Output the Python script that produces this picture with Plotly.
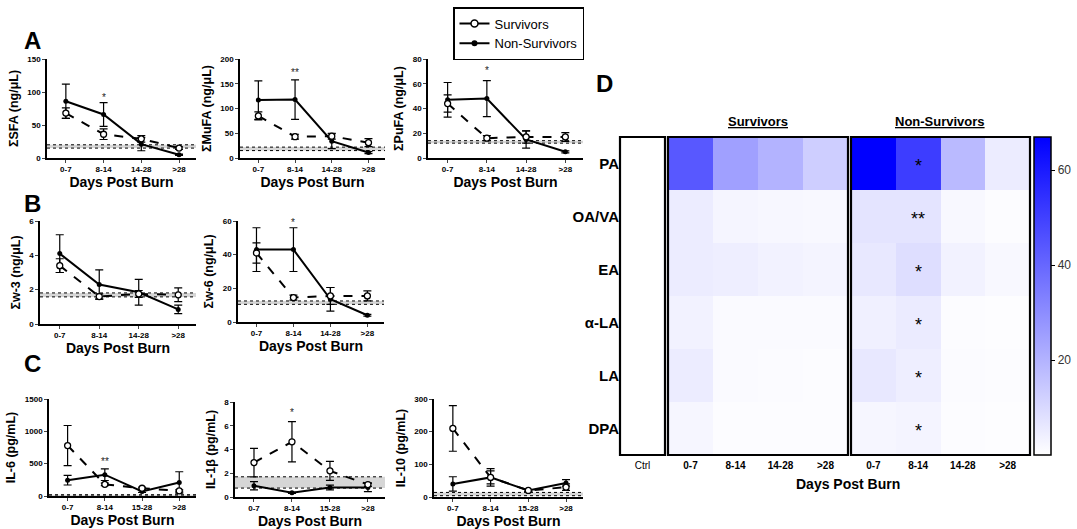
import plotly.graph_objects as go

FONT = "Liberation Sans, Arial, sans-serif"
W, H = 1077, 529

# ---------------- data ----------------
cats_fa = ["0-7", "8-14", "14-28", ">28"]
cats_cy = ["0-7", "8-14", "15-28", ">28"]

sfa_s = [68, 36, 29, 15];      sfa_s_err = [8, 8, 5, 2]
sfa_ns = [86, 66, 21, 5];      sfa_ns_err = [26, 18, 10, 1]
mufa_s = [85, 43, 44, 31];     mufa_s_err = [8, 5, 6, 8]
mufa_ns = [117, 118, 34, 11];  mufa_ns_err = [39, 40, 15, 2]
pufa_s = [44, 16, 17, 17];     pufa_s_err = [7, 2, 5, 3.5]
pufa_ns = [47, 48, 15, 5];     pufa_ns_err = [14, 14.5, 7, 0.8]
w3_s = [3.4, 1.6, 1.75, 1.7];  w3_s_err = [0.4, 0.15, 0.2, 0.4]
w3_ns = [4.1, 2.3, 1.85, 0.85]; w3_ns_err = [1.1, 0.85, 0.75, 0.25]
w6_s = [41, 14.5, 15.5, 15.5]; w6_s_err = [6, 1.5, 5, 3]
w6_ns = [43, 43, 13.5, 4];     w6_ns_err = [13, 13, 7, 0.5]
il6_s = [780, 180, 120, 80];   il6_s_err = [310, 20, 15, 15]
il6_ns = [245, 330, 70, 210];  il6_ns_err = [75, 90, 15, 165]
il1b_s = [2.9, 4.65, 2.2, 1.05]; il1b_s_err = [1.2, 1.7, 0.8, 0.15]
il1b_ns = [0.95, 0.35, 0.8, 0.8]; il1b_ns_err = [0.35, 0.05, 0.2, 0.35]
il10_s = [210, 60, 20, 30];    il10_s_err = [70, 20, 3, 10]
il10_ns = [40, 60, 20, 43];    il10_ns_err = [22, 27, 3, 10]

heat_rows = ["PA", "OA/VA", "EA", "α-LA", "LA", "DPA"]
heat_ctrl = [0, 0, 0, 0, 0, 0]
heat_surv = [[44, 25, 20, 13], [5, 2.6, 2, 1.8], [5, 4.5, 3.4, 2.9],
             [3.4, 1.3, 1.3, 1.3], [5, 1.3, 1.1, 0.8], [2.4, 0.8, 0.8, 0.8]]
heat_nonsurv = [[67, 51, 18, 5], [7, 7, 1.8, 0.8], [6, 8.7, 3.4, 1.8],
                [4, 5.3, 0.8, 0.5], [6, 4.5, 1, 0.8], [2.4, 2.9, 0.8, 0.5]]
heat_stars = ["*", "**", "*", "*", "*", "*"]

# panel definitions: (title, cats, s, s_err, ns, ns_err, ymax, dtick, band, star)
panels = [
    ("ΣSFA (ng/μL)", cats_fa, sfa_s, sfa_s_err, sfa_ns, sfa_ns_err, 150, 50, (15, 20), ("*", 1, 92)),
    ("ΣMuFA (ng/μL)", cats_fa, mufa_s, mufa_s_err, mufa_ns, mufa_ns_err, 200, 50, (15, 22), ("**", 1, 172)),
    ("ΣPuFA (ng/μL)", cats_fa, pufa_s, pufa_s_err, pufa_ns, pufa_ns_err, 80, 20, (12, 14), ("*", 1, 71)),
    ("Σw-3 (ng/μL)", cats_fa, w3_s, w3_s_err, w3_ns, w3_ns_err, 6, 2, (1.58, 1.81), None),
    ("Σw-6 (ng/μL)", cats_fa, w6_s, w6_s_err, w6_ns, w6_ns_err, 60, 20, (10.5, 12.5), ("*", 1, 59)),
    ("IL-6 (pg/mL)", cats_cy, il6_s, il6_s_err, il6_ns, il6_ns_err, 1500, 500, (0, 20), ("**", 1, 530)),
    ("IL-1β (pg/mL)", cats_cy, il1b_s, il1b_s_err, il1b_ns, il1b_ns_err, 8, 2, (0.75, 1.7), ("*", 1, 7.1)),
    ("IL-10 (pg/mL)", cats_cy, il10_s, il10_s_err, il10_ns, il10_ns_err, 300, 100, (4, 14), ("*", 0, 318)),
]

# pixel layout of each line plot (x0, x1, ytop, ybottom)
boxes = [
    (47, 196, 59, 158), (240, 385, 59, 158), (428, 583, 59, 158),
    (40, 196, 221, 324), (238, 384, 221, 322),
    (49, 196, 399, 496), (235, 385, 402, 497), (434, 583, 399, 497),
]


def px_x(x):
    return x / W


def px_y(y):
    return 1 - y / H


def ax(letter, n):
    return letter if n == 1 else f"{letter}{n}"


fig = go.Figure()
layout = dict(width=W, height=H, margin=dict(l=0, r=0, t=0, b=0, autoexpand=False),
              paper_bgcolor="white", plot_bgcolor="white",
              font=dict(family=FONT, color="black"), showlegend=True)
shapes = []
annotations = []

for i, (p, b) in enumerate(zip(panels, boxes)):
    title, cats, s, se, ns, nse, ymax, dtick, band, star = p
    n = i + 1
    xa, ya = ax("x", n), ax("y", n)
    xs = list(range(len(cats)))
    fig.add_trace(go.Scatter(
        x=xs, y=ns, xaxis=xa, yaxis=ya, mode="lines+markers", showlegend=False,
        line=dict(color="black", width=2),
        marker=dict(symbol="circle", size=5, color="black"),
        error_y=dict(type="data", array=nse, color="black", thickness=1.2, width=4),
        cliponaxis=False))
    fig.add_trace(go.Scatter(
        x=xs, y=s, xaxis=xa, yaxis=ya, mode="lines+markers", showlegend=False,
        line=dict(color="black", width=2, dash="dash"),
        marker=dict(symbol="circle", size=6, color="white", line=dict(color="black", width=1.3)),
        error_y=dict(type="data", array=se, color="black", thickness=1.2, width=4),
        cliponaxis=False))
    x0, x1, yt, yb = b
    layout[ax("xaxis", n)] = dict(
        domain=[px_x(x0), px_x(x1)], anchor=ya, range=[-0.5, 3.45],
        tickvals=xs, ticktext=cats, showline=True, linecolor="black", linewidth=1.6,
        ticks="outside", ticklen=3, tickwidth=1.2, showgrid=False, zeroline=False,
        tickfont=dict(size=8, weight="bold"),
        title=dict(text="<b>Days Post Burn</b>", font=dict(size=14), standoff=2))
    layout[ax("yaxis", n)] = dict(
        domain=[px_y(yb), px_y(yt)], anchor=xa, range=[0, ymax], dtick=dtick,
        showline=True, linecolor="black", linewidth=1.6, ticks="outside", ticklen=3,
        tickwidth=1.2, showgrid=False, zeroline=False,
        tickfont=dict(size=8, weight="bold"),
        title=dict(text=f"<b>{title}</b>", font=dict(size=12.5), standoff=6))
    lo, hi = band
    shapes.append(dict(type="rect", xref=f"{xa} domain", yref=ya, x0=0, x1=1, y0=lo, y1=hi,
                       fillcolor="rgba(200,200,200,0.75)", line=dict(width=0), layer="below"))
    for yv in (lo, hi):
        shapes.append(dict(type="line", xref=f"{xa} domain", yref=ya, x0=0, x1=1, y0=yv, y1=yv,
                           line=dict(color="black", width=1, dash="dot"), layer="below"))
    if star:
        txt, xi, yv = star
        annotations.append(dict(text=txt, x=xi, y=yv, xref=xa, yref=ya, showarrow=False,
                                font=dict(size=10, color="#222"), xanchor="center",
                                yanchor="middle"))

# legend-only traces
fig.add_trace(go.Scatter(x=[None], y=[None], mode="lines+markers", name="Survivors",
                         line=dict(color="black", width=2),
                         marker=dict(symbol="circle", size=7, color="white",
                                     line=dict(color="black", width=1.5))))
fig.add_trace(go.Scatter(x=[None], y=[None], mode="lines+markers", name="Non-Survivors",
                         line=dict(color="black", width=2),
                         marker=dict(symbol="circle", size=6, color="black")))
layout["legend"] = dict(x=px_x(453), y=px_y(7), xanchor="left", yanchor="top",
                        bordercolor="black", borderwidth=1.5, font=dict(size=13),
                        itemwidth=30, tracegroupgap=0, bgcolor="white")

# ---------------- heatmap ----------------
cs = [[0, "rgb(255,255,255)"], [1, "rgb(0,0,255)"]]
zmax = 67
hy = [px_y(455), px_y(137)]
hboxes = [(620, 665), (668, 848), (851, 1030)]
hdata = [
    (["Ctrl"], [[v] for v in heat_ctrl]),
    (cats_fa, heat_surv),
    (cats_fa, heat_nonsurv),
]
for k, ((hx0, hx1), (xc, z)) in enumerate(zip(hboxes, hdata)):
    n = 9 + k
    fig.add_trace(go.Heatmap(
        x=xc, y=heat_rows, z=z, xaxis=f"x{n}", yaxis="y9", colorscale=cs,
        zmin=0, zmax=zmax, showscale=(k == 0), showlegend=False,
        colorbar=dict(x=px_x(1034), xanchor="left", thickness=17, len=318 / H,
                      lenmode="fraction", y=px_y(296), yanchor="middle", xpad=0, ypad=0,
                      outlinecolor="black", outlinewidth=1.5, tickvals=[20, 40, 60],
                      ticks="outside", ticklen=4, tickcolor="black",
                      tickfont=dict(size=12, color="#333"))))
    layout[f"xaxis{n}"] = dict(
        domain=[px_x(hx0), px_x(hx1)], anchor="y9", showgrid=False, zeroline=False,
        ticks="", showline=False, ticklabelstandoff=3,
        tickfont=dict(size=10, weight="normal" if k == 0 else "bold"))
    shapes.append(dict(type="rect", xref=f"x{n} domain", yref="y9 domain", x0=0, x1=1,
                       y0=0, y1=1, line=dict(color="black", width=2.2), layer="above"))
layout["yaxis9"] = dict(domain=hy, anchor="x9", autorange="reversed", showgrid=False,
                        zeroline=False, ticks="", ticklen=0,
                        tickfont=dict(size=15, weight="bold"))
for r, st in enumerate(heat_stars):
    annotations.append(dict(text=st, x=cats_fa[1], y=heat_rows[r], xref="x11", yref="y9",
                            showarrow=False, font=dict(size=18, color="black"), yshift=-2,
                            xanchor="center", yanchor="middle"))

annotations += [
    dict(text="<b><u>Survivors</u></b>", x=px_x(758), y=px_y(122), xref="paper", yref="paper",
         showarrow=False, font=dict(size=13), xanchor="center", yanchor="middle"),
    dict(text="<b><u>Non-Survivors</u></b>", x=px_x(940), y=px_y(122), xref="paper", yref="paper",
         showarrow=False, font=dict(size=13), xanchor="center", yanchor="middle"),
    dict(text="<b>Days Post Burn</b>", x=px_x(848), y=px_y(484), xref="paper", yref="paper",
         showarrow=False, font=dict(size=14), xanchor="center", yanchor="middle"),
]
for letter, (lx, ly) in {"A": (32, 41), "B": (32, 203), "C": (32, 363), "D": (604, 84)}.items():
    annotations.append(dict(text=f"<b>{letter}</b>", x=px_x(lx), y=px_y(ly), xref="paper",
                            yref="paper", showarrow=False, font=dict(size=24),
                            xanchor="center", yanchor="middle"))

layout["shapes"] = shapes
layout["annotations"] = annotations
fig.update_layout(**layout)
fig.write_html("out.html", config={"displayModeBar": False},
               post_script="document.body.style.margin='0';")
